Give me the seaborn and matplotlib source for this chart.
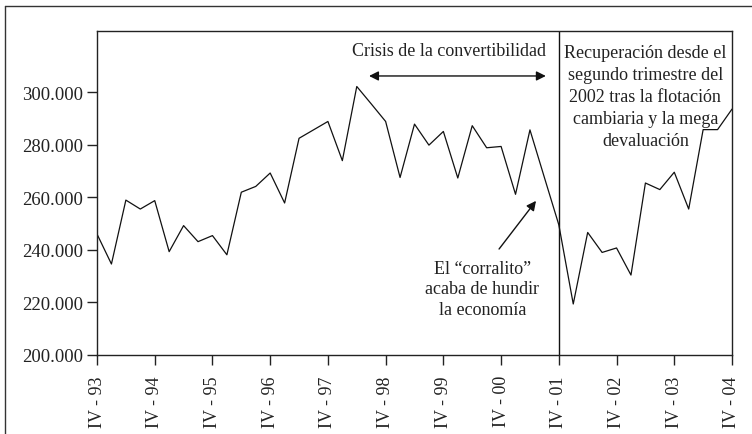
import matplotlib
matplotlib.use("Agg")
import matplotlib.pyplot as plt
from matplotlib.lines import Line2D
from matplotlib.ticker import FuncFormatter
import seaborn as sns
import pandas as pd

# ---- data (quarterly, IV-93 .. IV-04) ----
values = [246.0, 234.6, 258.9, 255.5, 258.7, 239.3, 249.2, 243.1, 245.4, 238.1,
          261.9, 264.1, 269.2, 257.8, 282.4, 285.6, 288.8, 273.9, 302.1, 295.5,
          288.8, 267.5, 287.8, 279.8, 285.0, 267.3, 287.2, 278.8, 279.3, 261.1,
          285.6, 267.5, 249.5, 219.4, 246.6, 239.0, 240.7, 230.4, 265.4, 262.9,
          269.5, 255.5, 285.7, 285.7, 293.5]
values = [v * 1000 for v in values]
quarters = list(range(len(values)))
tick_labels = ["IV - 93", "IV - 94", "IV - 95", "IV - 96", "IV - 97", "IV - 98",
               "IV - 99", "IV - 00", "IV - 01", "IV - 02", "IV - 03", "IV - 04"]
tick_pos = [4 * i for i in range(len(tick_labels))]
y_ticks = [200000, 220000, 240000, 260000, 280000, 300000]

df = pd.DataFrame({"q": quarters, "v": values})

sns.set_style("ticks")
plt.rcParams["font.family"] = ["Liberation Serif", "DejaVu Serif"]
plt.rcParams["text.color"] = "#222222"
plt.rcParams["axes.edgecolor"] = "#222222"
plt.rcParams["xtick.color"] = "#222222"
plt.rcParams["ytick.color"] = "#222222"

fig = plt.figure(figsize=(7.52, 4.35), dpi=100)
ax = fig.add_axes([97 / 752, 1 - 356 / 435, (732 - 97) / 752, (356 - 32) / 435])

sns.lineplot(data=df, x="q", y="v", ax=ax, color="#111111", linewidth=0.9)

ax.set_xlim(0, 44)
ax.set_ylim(200000, 323200)
ax.set_xticks(tick_pos)
ax.set_xticklabels(tick_labels, rotation=90, fontsize=13)
ax.set_yticks(y_ticks)
ax.yaxis.set_major_formatter(FuncFormatter(lambda v, p: f"{v:,.0f}".replace(",", ".")))
ax.tick_params(axis="y", labelsize=13.5, length=7, width=1, pad=3)
ax.tick_params(axis="x", length=7, width=1, pad=7.5)
ax.set_xlabel("")
ax.set_ylabel("")
for s in ax.spines.values():
    s.set_linewidth(1.0)
    s.set_visible(True)

# vertical line at IV-01
ax.axvline(32, color="#111111", linewidth=1.0)

# annotations
ax.text(24.4, 315600, "Crisis de la convertibilidad", ha="center", va="center", fontsize=13)
ax.annotate("", xy=(18.85, 306100), xytext=(31.1, 306100),
            arrowprops=dict(arrowstyle="<|-|>", color="#111111", lw=1.0,
                            mutation_scale=14, shrinkA=0, shrinkB=0))
ax.text(38.0, 318300,
        "Recuperación desde el\nsegundo trimestre del\n2002 tras la flotación\ncambiaria y la mega\ndevaluación",
        ha="center", va="top", multialignment="center", fontsize=13, linespacing=1.38)
ax.text(26.7, 225100, "El \u201ccorralito\u201d\nacaba de hundir\nla economía",
        ha="center", va="center", multialignment="center", fontsize=13, linespacing=1.3)
ax.annotate("", xy=(30.42, 258600), xytext=(27.86, 240300),
            arrowprops=dict(arrowstyle="-|>", color="#111111", lw=1.0,
                            mutation_scale=14, shrinkA=0, shrinkB=0))

# outer frame (partially visible)
fig.add_artist(Line2D([5 / 752, 5 / 752], [0, 1 - 7 / 435], transform=fig.transFigure,
                      color="#333333", linewidth=1.0))
fig.add_artist(Line2D([5 / 752, 1], [1 - 7 / 435, 1 - 7 / 435], transform=fig.transFigure,
                      color="#333333", linewidth=1.0))

fig.savefig("out.png", dpi=100)
